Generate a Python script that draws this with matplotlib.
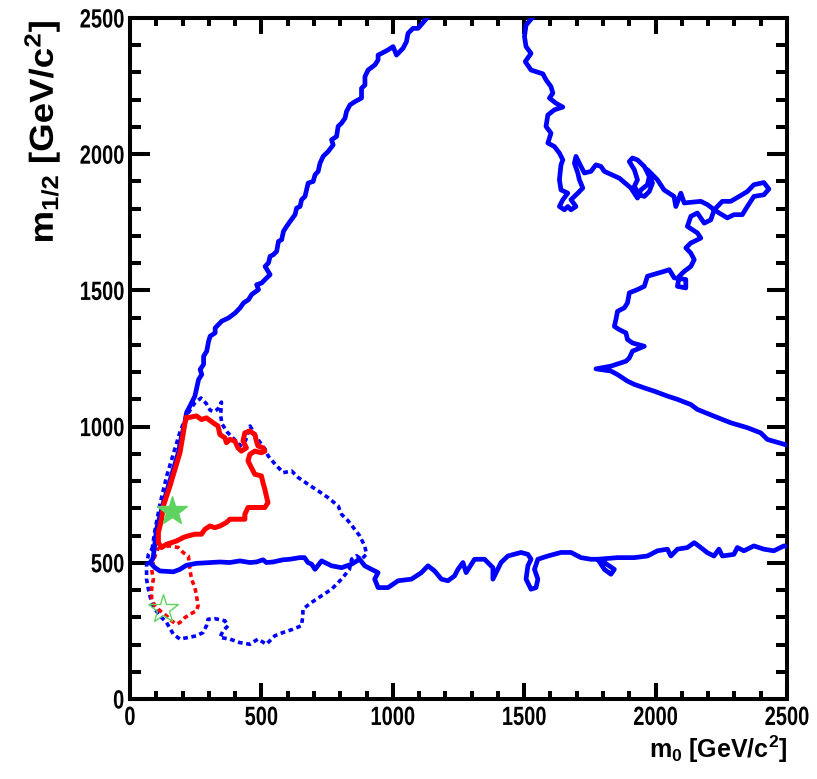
import matplotlib
matplotlib.use('Agg')
import matplotlib.pyplot as plt
from matplotlib.ticker import MultipleLocator
from matplotlib import patheffects
from matplotlib.transforms import Affine2D

plt.rcParams['font.family'] = ['Liberation Sans', 'DejaVu Sans']
plt.rcParams['font.weight'] = 'bold'
plt.rcParams['mathtext.fontset'] = 'custom'
plt.rcParams['mathtext.rm'] = 'Liberation Sans:bold'
plt.rcParams['mathtext.it'] = 'Liberation Sans:bold'
plt.rcParams['mathtext.bf'] = 'Liberation Sans:bold'


class Squeeze(patheffects.AbstractPathEffect):
    """scale glyphs along the text direction (the ROOT canvas was resized unevenly)"""
    def __init__(self, sx, anchor='center'):
        super().__init__()
        self.sx = sx
        self.anchor = anchor

    def draw_path(self, renderer, gc, tpath, affine, rgbFace=None):
        v = tpath.vertices
        x0, x1 = (v[:, 0].min(), v[:, 0].max()) if len(v) else (0, 0)
        cx = {'left': x0, 'center': (x0 + x1) / 2, 'right': x1}[self.anchor]
        t = Affine2D().translate(-cx, 0).scale(self.sx, 1).translate(cx, 0) + affine
        renderer.draw_path(gc, tpath, t, rgbFace)


# ---- contours, m0 / m1/2 in GeV/c^2 ----
# blue solid, left branch: from top edge down to the left, then along m1/2~500 to the right edge
blue_a_x = [1130, 1096, 1077, 1058, 1052, 1039, 1014, 1001, 982, 957, 944, 944, 932, 906, 894, 894,
            881, 881, 856, 837, 824, 818, 805, 792, 786, 767, 773, 754, 735, 723, 716, 704, 697, 678,
            672, 666, 653, 647, 634, 628, 609, 596, 584, 577, 565, 558, 545, 533, 527, 514, 533, 514,
            501, 482, 489, 463, 451, 432, 419, 400, 375, 349, 337, 324, 324, 305, 299, 292, 280, 280,
            267, 273, 261, 247, 228, 215, 209, 196, 184, 165, 146, 127, 114, 101, 95, 89, 86, 76,
            95, 114, 165, 190, 215, 253, 304, 342, 380, 418, 456, 481, 506, 519, 544, 582, 608, 646,
            664, 677, 691, 704, 729, 767, 805, 843, 874, 893, 919, 944, 931, 944, 982, 1020, 1071,
            1109, 1134, 1159, 1185, 1210, 1235, 1248, 1267, 1279, 1311, 1349, 1381, 1381, 1412, 1438,
            1488, 1514, 1526, 1514, 1507, 1526, 1545, 1552, 1539, 1552, 1590, 1640, 1678, 1716, 1754,
            1780, 1805, 1843, 1830, 1805, 1780, 1855, 1919, 1969, 2007, 2045, 2058, 2083, 2121, 2147,
            2172, 2197, 2222, 2241, 2254, 2298, 2311, 2336, 2374, 2412, 2450, 2488, 2500]
blue_a_y = [2500, 2462, 2462, 2444, 2413, 2389, 2364, 2395, 2383, 2370, 2364, 2346, 2328, 2309, 2285,
            2254, 2242, 2206, 2193, 2181, 2157, 2132, 2114, 2102, 2065, 2053, 2034, 2010, 1992, 1967,
            1937, 1924, 1900, 1894, 1869, 1845, 1833, 1808, 1802, 1778, 1753, 1735, 1717, 1686, 1680,
            1643, 1631, 1625, 1601, 1588, 1558, 1540, 1527, 1521, 1503, 1485, 1466, 1454, 1436, 1417,
            1399, 1387, 1375, 1362, 1344, 1332, 1313, 1277, 1258, 1228, 1210, 1191, 1173, 1112, 1075,
            1051, 1014, 965, 904, 843, 782, 721, 672, 623, 574, 525, 513, 501,
            482, 470, 467, 476, 491, 498, 501, 503, 501, 507, 501, 503, 511, 501, 503, 511, 513, 519,
            519, 501, 495, 476, 507, 489, 482, 495, 513, 489, 476, 464, 440, 409, 409, 434, 440,
            464, 489, 470, 440, 434, 452, 476, 501, 464, 513, 513, 482, 440, 501, 525,
            538, 531, 513, 489, 440, 403, 409, 440, 476, 513, 525, 538, 538, 519, 513,
            513, 501, 476, 458, 476, 513, 519, 519, 525, 544, 550, 525, 550, 556, 574,
            556, 537, 525, 550, 525, 531, 556, 544, 562, 550, 544, 562, 560]

# blue solid, right branch: from top edge down to the right edge
blue_b_x = [1530, 1507, 1501, 1507, 1526, 1504, 1526, 1571, 1583, 1602, 1609, 1596, 1621, 1647, 1615,
            1590, 1583, 1602, 1590, 1615, 1634, 1647, 1640, 1634, 1640, 1666, 1647, 1634, 1653, 1666,
            1678, 1697, 1678, 1704, 1723, 1710, 1704, 1691, 1697, 1716, 1729, 1754, 1773, 1792, 1805,
            1862, 1906, 1931, 1944, 1969, 1976, 1957, 1931, 1912, 1900, 1919, 1931, 1919, 1938, 1957,
            1976, 1988, 1969, 2007, 2032, 2070, 2077, 2096, 2109, 2172, 2197, 2223, 2254, 2286, 2318,
            2349, 2374, 2412, 2431, 2412, 2374, 2349, 2330, 2298, 2273, 2242, 2223, 2210, 2185, 2159,
            2134, 2121, 2140, 2159, 2172, 2134, 2115, 2134, 2147, 2134, 2109, 2090, 2083, 2115, 2115,
            2071, 2052, 2033, 1969, 1957, 1931, 1900, 1893, 1881, 1855, 1849, 1843, 1862, 1887, 1893,
            1912, 1957, 1912, 1900, 1887, 1868, 1830, 1773, 1830, 1855, 1893, 1919, 1957, 1995, 2045,
            2083, 2134, 2159, 2223, 2286, 2349, 2400, 2425, 2500]
blue_b_y = [2500, 2474, 2432, 2395, 2370, 2340, 2309, 2295, 2273, 2248, 2224, 2206, 2187, 2173, 2163,
            2144, 2102, 2077, 2041, 2028, 2004, 1979, 1961, 1906, 1869, 1857, 1833, 1808, 1796, 1808,
            1796, 1808, 1833, 1857, 1876, 1906, 1931, 1967, 1992, 1955, 1931, 1937, 1961, 1955, 1937,
            1912, 1876, 1839, 1869, 1888, 1918, 1955, 1979, 1986, 1973, 1943, 1906, 1882, 1851, 1845,
            1863, 1894, 1943, 1906, 1869, 1845, 1808, 1857, 1821, 1827, 1815, 1796, 1827, 1827, 1845,
            1863, 1888, 1896, 1872, 1851, 1845, 1808, 1778, 1778, 1766, 1784, 1796, 1759, 1747, 1784,
            1772, 1735, 1723, 1711, 1692, 1674, 1656, 1637, 1613, 1588, 1570, 1552, 1515, 1509, 1540,
            1546, 1576, 1570, 1552, 1515, 1503, 1491, 1454, 1436, 1423, 1393, 1368, 1356, 1344, 1320,
            1307, 1295, 1277, 1252, 1240, 1234, 1222, 1212, 1204, 1191, 1167, 1155, 1142, 1130, 1112,
            1100, 1081, 1063, 1038, 1014, 996, 977, 953, 932]

# red solid, closed
red_x = [215, 253, 272, 291, 316, 335, 342, 361, 367, 380, 399, 411, 424, 443, 430, 437, 456, 475,
         481, 487, 506, 513, 500, 475, 456, 449, 462, 475, 500, 506, 513, 519, 525, 513, 481, 449,
         437, 437, 405, 380, 367, 342, 323, 304, 285, 272, 247, 222, 203, 177, 158, 139, 120, 108,
         108, 120, 127, 152, 171, 190, 203, 209, 215]
red_y = [1032, 1039, 1026, 1032, 1014, 1002, 971, 959, 941, 953, 947, 922, 910, 922, 947, 977, 984,
         971, 947, 929, 922, 910, 904, 910, 898, 874, 849, 825, 819, 794, 770, 745, 721, 703, 703,
         703, 678, 660, 660, 660, 648, 635, 629, 635, 623, 605, 605, 599, 593, 580, 574, 568, 556,
         574, 611, 660, 709, 782, 843, 904, 977, 1014, 1032]

# red dotted, closed
red_dot_x = [108, 152, 184, 203, 222, 228, 234, 247, 253, 259, 253, 228, 209, 190, 177, 158, 139,
             114, 95, 82, 82, 89, 82, 95, 108]
red_dot_y = [556, 562, 556, 537, 525, 476, 440, 409, 379, 342, 324, 311, 299, 281, 275, 287, 305,
             324, 342, 366, 403, 440, 476, 525, 556]

# blue dotted, closed
blue_dot_x = [84, 95, 115, 140, 165, 190, 215, 245, 270, 290, 305, 320, 335, 348, 345, 350, 370,
              395, 420, 440, 457, 482, 514, 526, 552, 583, 615, 640, 678, 716, 754, 792, 805, 830,
              855, 874, 893, 900, 881, 862, 843, 835, 805, 767, 729, 690, 658, 658, 652, 620, 582,
              551, 519, 487, 456, 418, 380, 342, 354, 373, 361, 323, 297, 291, 278, 253, 222, 190,
              165, 139, 114, 95, 82, 70, 63, 63, 70, 84]
blue_dot_y = [550, 620, 720, 820, 900, 980, 1040, 1085, 1105, 1085, 1060, 1055, 1065, 1090, 1040,
              1010, 980, 955, 930, 950, 1002, 959, 917, 892, 862, 831, 837, 813, 788, 764, 739, 709,
              678, 654, 623, 599, 562, 532, 513, 526, 513, 476, 440, 403, 379, 354, 330, 305, 269,
              256, 244, 232, 201, 220, 201, 207, 220, 226, 250, 269, 287, 295, 293, 269, 244, 232,
              226, 220, 238, 281, 305, 330, 354, 403, 440, 489, 531, 550]

# best-fit points
star_filled = (158, 690)
star_open = (124, 330)

fig = plt.figure(figsize=(8.17, 7.79), dpi=100)
ax = fig.add_axes([130 / 817, 1 - 699 / 779, (787 - 130) / 817, (699 - 18) / 779])

dots = (0, (1.3, 1.0))
ax.plot(blue_dot_x, blue_dot_y, color='#0000ff', lw=2.6, ls=dots, zorder=2)
ax.plot(red_dot_x, red_dot_y, color='#ff0000', lw=2.6, ls=dots, zorder=2)
ax.plot(blue_a_x, blue_a_y, color='#0000ff', lw=3.4, zorder=3)
ax.plot(blue_b_x, blue_b_y, color='#0000ff', lw=3.4, zorder=3)
ax.plot(red_x, red_y, color='#ff0000', lw=3.6, zorder=4)
ax.plot(*star_filled, marker='*', ms=22, color='#5fd35f', mec='#5fd35f', zorder=5)
ax.plot(*star_open, marker='*', ms=22, mfc='none', mec='#5fd35f', mew=1.0, zorder=5)

ax.set_xlim(0, 2500)
ax.set_ylim(0, 2500)
ax.xaxis.set_major_locator(MultipleLocator(500))
ax.xaxis.set_minor_locator(MultipleLocator(100))
ax.yaxis.set_major_locator(MultipleLocator(500))
ax.yaxis.set_minor_locator(MultipleLocator(100))
ax.tick_params(which='both', direction='in', top=True, right=True, width=2.9, labelsize=19)
ax.tick_params(axis='x', which='major', length=11.5, pad=5)
ax.tick_params(axis='x', which='minor', length=5.5)
ax.tick_params(axis='y', which='major', length=14.4, pad=4)
ax.tick_params(axis='y', which='minor', length=8)
for s in ax.spines.values():
    s.set_linewidth(2.9)

fig.text(787 / 817, 1 - 758 / 779, r'$m_{0}$ [GeV/c$^{2}$]', ha='right', va='baseline',
         fontsize=18, fontweight='bold')
fig.text(42 / 817, 1 - 20 / 779, r'$m_{1/2}$ [GeV/c$^{2}$]', ha='center', va='top',
         rotation=90, fontsize=24, fontweight='bold', path_effects=[Squeeze(1.1, 'right')])

# tick labels exist after a first draw; narrow them like the reference
fig.canvas.draw()
for lab in ax.get_xticklabels():
    lab.set_fontweight('bold')
    lab.set_path_effects([Squeeze(0.76, 'center')])
for lab in ax.get_yticklabels():
    lab.set_fontweight('bold')
    lab.set_path_effects([Squeeze(0.76, 'right')])

fig.savefig('out.png', dpi=100)
